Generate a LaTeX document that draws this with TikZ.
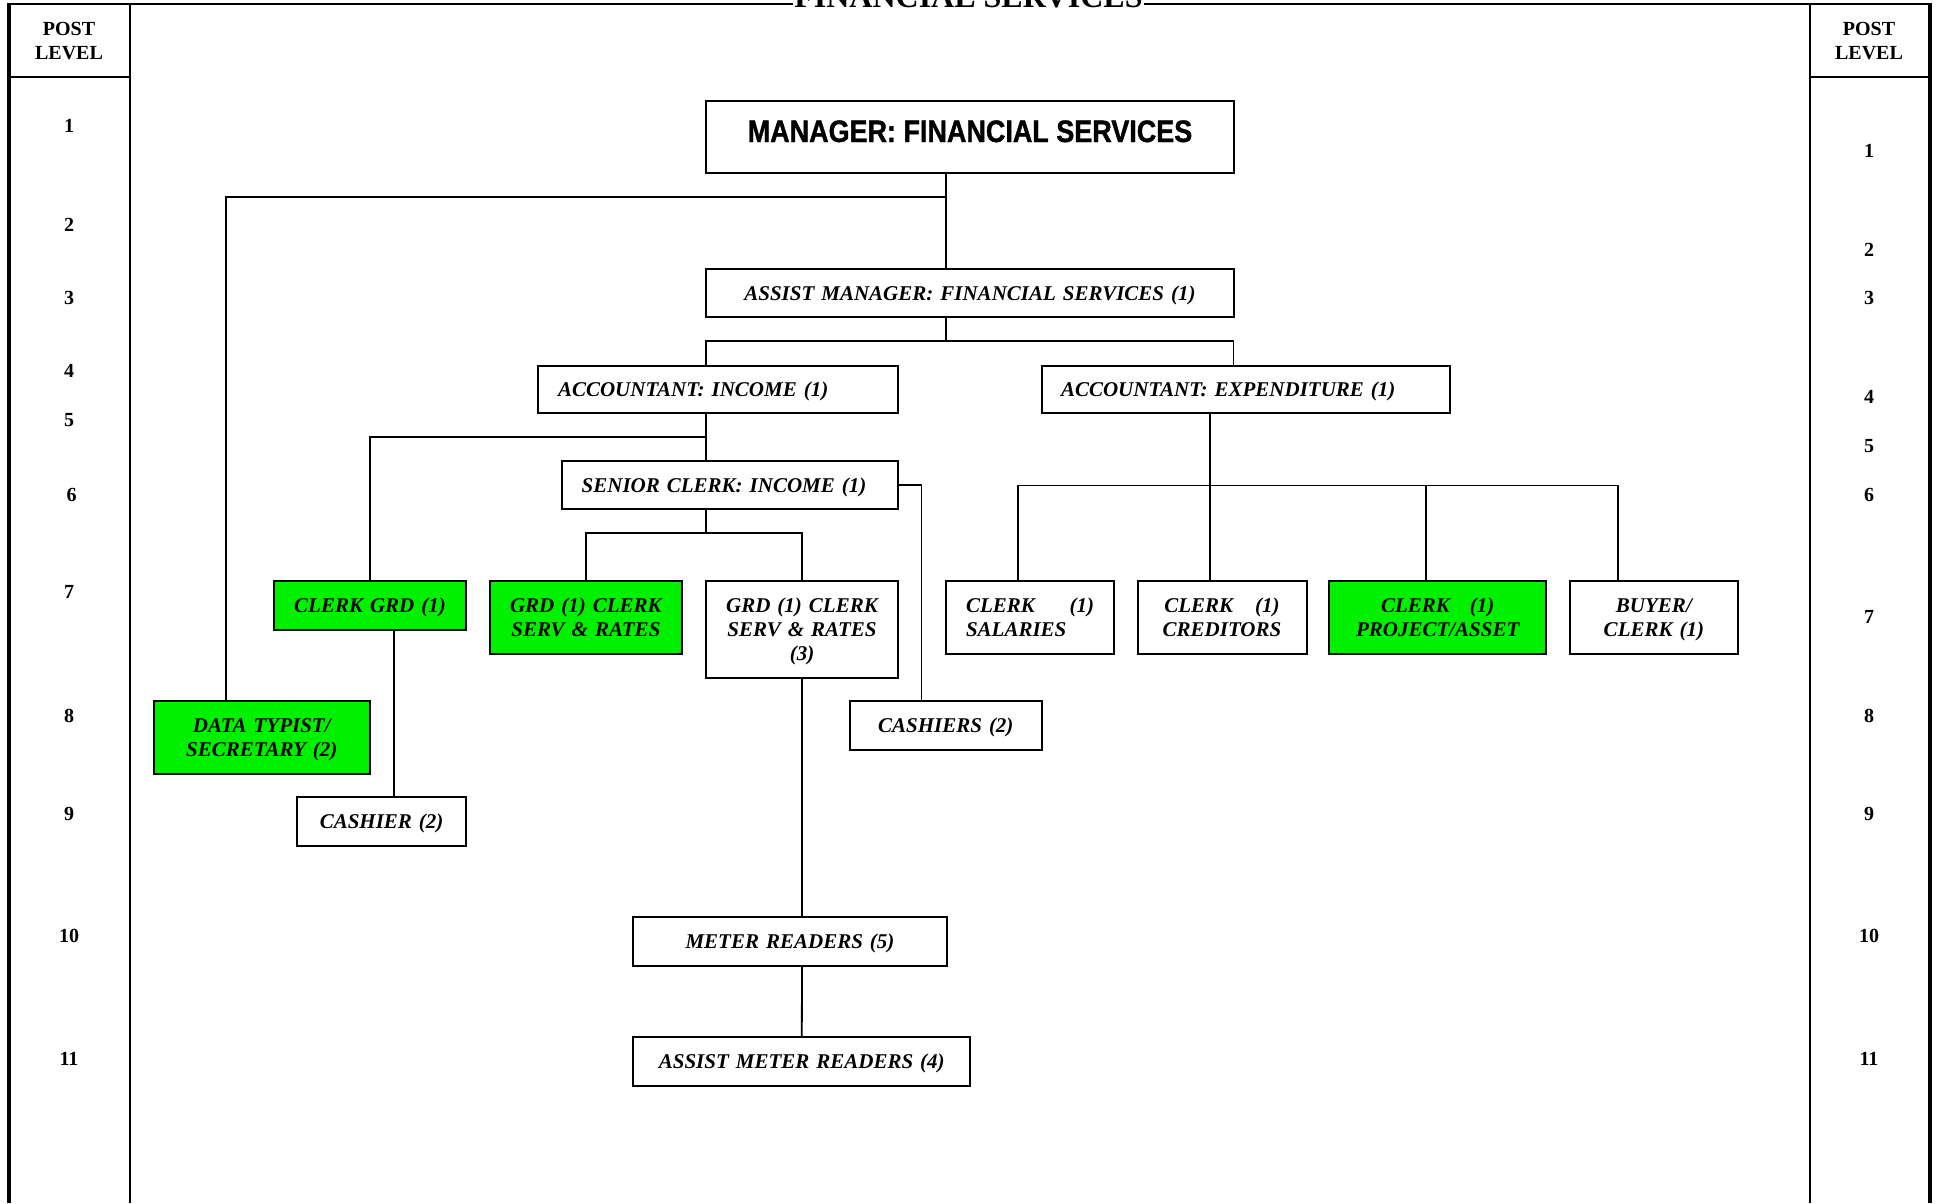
\documentclass[tikz,border=0pt]{standalone}
\usepackage{fontspec}
\setmainfont{Liberation Serif}
\newfontfamily\headfont[FakeStretch=0.87,FakeBold=1.2]{Liberation Sans}
\definecolor{postgreen}{RGB}{0,240,0}
\tikzset{
  frameline/.style={line width=2pt, black},
  outerline/.style={line width=4pt, black},
  conn/.style={line width=1.8pt, black},
  post/.style={draw=black, line width=2pt, inner sep=0pt, fill=white,
    font=\fontsize{21}{24}\selectfont\bfseries\itshape},
  greenpost/.style={post, fill=postgreen},
  % text of one line: centre the capitals, not the parentheses
  oneline/.style={text depth=0pt},
  lvl/.style={font=\fontsize{20}{24}\selectfont\bfseries, inner sep=0pt},
  lvlhead/.style={lvl, align=center},
}
\begin{document}
\begin{tikzpicture}[x=1pt,y=-1pt]
\useasboundingbox (0,0) rectangle (1939,1203);
\clip (0,0) rectangle (1939,1203);

% page frame and post-level columns
\draw[frameline, line width=2.5pt] (9,4) -- (1930,4);
\draw[outerline] (9,3) -- (9,1203);
\draw[outerline] (1930,3) -- (1930,1203);
\draw[frameline] (130,4) -- (130,1203);
\draw[frameline] (1810,4) -- (1810,1203);
\draw[frameline] (9,77) -- (130,77);
\draw[frameline] (1810,77) -- (1930,77);

% heading, partly cut by the sheet edge
\node[font=\fontsize{32}{36}\selectfont\bfseries, fill=white, inner sep=1pt, anchor=base]
  (title) at (968.5,7) {FINANCIAL SERVICES};

% post-level headers and numbers
\node[lvlhead] (postL) at (69,41) {POST\\LEVEL};
\node[lvlhead] (postR) at (1869,41) {POST\\LEVEL};
\foreach \n/\y in {1/126,2/225,3/298,4/371,5/420,7/592,8/716,9/814,10/936,11/1059}
  \node[lvl] (lvlL\n) at (69,\y) {\n};
\node[lvl] (lvlL6) at (71.5,495) {6};
\foreach \n/\y in {1/151,2/250,3/298,4/397,5/446,6/495,7/617,8/716,9/814,10/936,11/1059}
  \node[lvl] (lvlR\n) at (1869,\y) {\n};

% posts
\node[draw=black, line width=2pt, inner sep=0pt, minimum width=528pt,
  text height=41pt, text depth=31pt,
  font=\headfont\fontsize{31}{36}\selectfont\bfseries] (mgr) at (970,137)
  {MANAGER: FINANCIAL SERVICES};
\node[post, oneline, minimum width=528pt, minimum height=48pt, text width=508pt, align=center]
  (asst) at (970,293) {ASSIST MANAGER: FINANCIAL SERVICES (1)};
\node[post, oneline, minimum width=360pt, minimum height=47pt, text width=320pt, align=left]
  (accinc) at (718,389.5) {ACCOUNTANT: INCOME (1)};
\node[post, oneline, minimum width=408pt, minimum height=47pt, text width=370pt, align=left]
  (accexp) at (1246,389.5) {ACCOUNTANT: EXPENDITURE (1)};
\node[post, oneline, minimum width=336.6pt, minimum height=48pt, text width=296.6pt, align=left]
  (senior) at (730,485.3) {SENIOR CLERK: INCOME (1)};

\node[greenpost, oneline, minimum width=192pt, minimum height=49pt, text width=172pt, align=center]
  (clerkgrd) at (370,605.6) {CLERK GRD (1)};
\node[greenpost, minimum width=192.3pt, minimum height=72.7pt, text width=172pt, align=center]
  (grdgreen) at (585.9,617.6) {GRD (1) CLERK\\SERV \& RATES};
\node[post, text depth=48pt, minimum width=192.4pt, minimum height=96.4pt, text width=172pt, align=center]
  (grdthree) at (802,629.5) {GRD (1) CLERK\\SERV \& RATES\\(3)};
\node[greenpost, text depth=24pt, minimum width=216.4pt, minimum height=73pt, text width=196pt, align=center]
  (datatyp) at (261.8,737.5) {DATA TYPIST/\\SECRETARY (2)};
\node[post, oneline, minimum width=168.7pt, minimum height=48.4pt, text width=150pt, align=center]
  (cashier) at (381.6,821.5) {CASHIER (2)};
\node[post, oneline, minimum width=192.4pt, minimum height=49pt, text width=172pt, align=center]
  (cashiers) at (945.8,725.5) {CASHIERS (2)};

\node[post, minimum width=168pt, minimum height=72.7pt, text width=128pt, align=left]
  (salaries) at (1030,617.6) {CLERK\hfill(1)\\SALARIES};
\node[post, minimum width=169pt, minimum height=72.7pt, text width=150pt, align=center]
  (creditors) at (1222,617.6) {CLERK\hspace{22pt}(1)\\CREDITORS};
\node[greenpost, minimum width=216.5pt, minimum height=72.7pt, text width=196pt, align=center]
  (project) at (1437.7,617.6) {CLERK\hspace{20pt}(1)\\PROJECT/ASSET};
\node[post, text depth=24pt, minimum width=168.2pt, minimum height=72.7pt, text width=150pt, align=center]
  (buyer) at (1653.9,617.6) {BUYER/\\CLERK (1)};

\node[post, oneline, minimum width=313.4pt, minimum height=48.4pt, text width=290pt, align=center]
  (meter) at (790,941.5) {METER READERS (5)};
\node[post, oneline, minimum width=337pt, minimum height=48.4pt, text width=317pt, align=center]
  (asstmeter) at (801.8,1061.5) {ASSIST METER READERS (4)};

% junctions of the reporting lines
\coordinate (jm) at (946,197);
\coordinate (ja) at (946,341);
\coordinate (ji) at (706,437);
\coordinate (js) at (706,533);
\coordinate (je) at (1210,485.5);

% reporting lines
\draw[conn] (mgr.south -| jm) -- (asst.north -| jm);
\draw[conn] (jm) -| ([xshift=-35.8pt]datatyp.north);
\draw[conn] (asst.south -| ja) -- (ja);
\draw[conn] ([xshift=-12pt]accinc.north) |- (ja) -| ([xshift=-12.5pt]accexp.north);
\draw[conn] ([xshift=-12pt]accinc.south) -- ([xshift=-24pt]senior.north);
\draw[conn] (ji) -| (clerkgrd.north);
\draw[conn] ([xshift=-24pt]senior.south) -- (js);
\draw[conn] (grdgreen.north) |- (js) -| (grdthree.north);
\draw[conn] (senior.east) -| ([xshift=-24.4pt]cashiers.north);
\draw[conn] ([xshift=23.75pt]clerkgrd.south) -- ([xshift=12.15pt]cashier.north);
\draw[conn] (grdthree.south) -- ([xshift=12pt]meter.north);
\draw[conn] ([xshift=12pt]meter.south) -- (asstmeter.north);
\draw[conn] (accexp.south -| je) -- (creditors.north -| je);
\draw[conn] ([xshift=-12pt]salaries.north) |- (je) -| ([xshift=-36.3pt]buyer.north);
\draw[conn] ([xshift=-11.7pt]project.north) |- (je);
\end{tikzpicture}
\end{document}
